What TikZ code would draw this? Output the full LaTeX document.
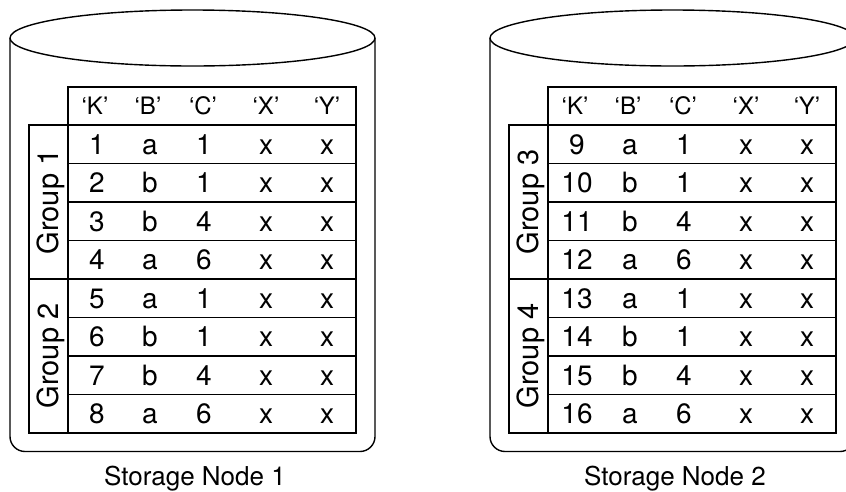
\documentclass[tikz,border=0pt]{standalone}
\usepackage{fontspec}
\setmainfont{TeX Gyre Heros}
\tikzset{
  outline/.style={line width=1.4pt, line join=round},
  rowbox/.style={draw, line width=1.3pt, minimum width=288pt, minimum height=38.5pt,
    inner sep=0pt, outer sep=0pt},
  grpbox/.style={draw, line width=1.3pt, rotate=90, minimum width=154pt, minimum height=39pt,
    inner sep=0pt, outer sep=0pt, text height=20.8pt, text depth=0pt,
    font=\fontsize{29}{29}\selectfont},
  grpsep/.style={line width=2.8pt},
  cell/.style={inner sep=0pt, text height=20pt, text depth=0pt,
    font=\fontsize{28}{28}\selectfont},
  head/.style={inner sep=0pt, text height=17.2pt, text depth=0pt,
    font=\fontsize{24}{24}\selectfont},
  caption/.style={inner sep=0pt, text height=18.7pt, text depth=0pt,
    font=\fontsize{26}{26}\selectfont},
}
% One storage cylinder holding a two-group table.
% #1 name prefix, #2 horizontal shift, #3 first group number, #4 first key, #5 caption
\newcommand\storagenode[5]{%
\begin{scope}[xshift=#2]
  \draw[outline, rounded corners=15pt] (10,38) -- (10,451.5) -- (375,451.5) -- (375,38);
  \draw[outline] (192.5,38) ellipse [x radius=182.5pt, y radius=28pt];
  % header row
  \node[rowbox, minimum height=38pt] (#1-head) at (212,106) {};
  \foreach \c/\h in {1/K,2/B,3/C,4/X,5/Y}{
    \pgfmathsetmacro\cx{{95,148,203,266,327}[\c-1]}
    \node[head] (#1-h\c) at (\cx,106) {‘\h’};
  }
  % data rows
  \foreach \r/\b/\v in {1/a/1,2/b/1,3/b/4,4/a/6,5/a/1,6/b/1,7/b/4,8/a/6}{
    \pgfmathsetmacro\ry{125+38.5*(\r-0.5)}
    \pgfmathtruncatemacro\k{#4+\r-1}
    \node[rowbox] (#1-row\r) at (212,\ry) {};
    \node[cell] (#1-r\r-k) at (97,\ry) {\k};
    \node[cell] (#1-r\r-b) at (150,\ry) {\b};
    \node[cell] (#1-r\r-c) at (204,\ry) {\v};
    \node[cell] (#1-r\r-x) at (266,\ry) {x};
    \node[cell] (#1-r\r-y) at (327,\ry) {x};
  }
  % group labels
  \node[grpbox] (#1-g1) at (48.5,202) {Group \the\numexpr#3\relax};
  \node[grpbox] (#1-g2) at (48.5,356) {Group \the\numexpr#3+1\relax};
  \coordinate (#1-gsep) at (29,279);
  \draw[grpsep] (#1-gsep) -- (#1-row4.south east);
  \node[caption] (#1-cap) at (195,476) {#5};
\end{scope}}

\begin{document}
\begin{tikzpicture}[x=1pt, y=-1pt]
  \useasboundingbox (0,0) rectangle (846,491);
  \clip (0,0) rectangle (846,491);
  \storagenode{sa}{0pt}{1}{1}{Storage Node 1}
  \storagenode{sb}{480pt}{3}{9}{Storage Node 2}
\end{tikzpicture}
\end{document}
